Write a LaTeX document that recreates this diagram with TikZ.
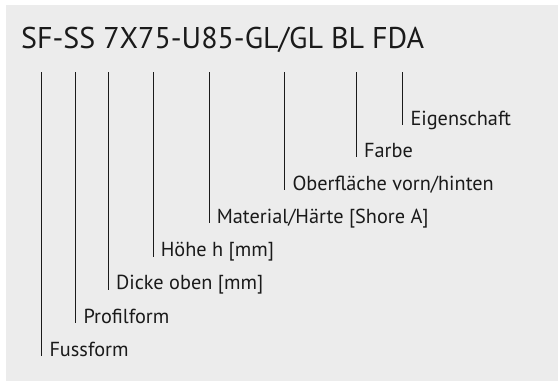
\documentclass[tikz,border=0pt]{standalone}
\usepackage{fontspec}
\setmainfont{PT Sans}
\usepackage{tikz}
\usetikzlibrary{positioning}
\definecolor{panel}{RGB}{236, 236, 236}
\definecolor{ink}{RGB}{26, 26, 26}
\tikzset{
    code title/.style={anchor=base west, inner sep=0pt, text=ink, font=\fontsize{30}{33}\selectfont},
    part label/.style={anchor=base west, inner sep=0pt, text=ink, font=\fontsize{20.3}{23}\selectfont},
    part line/.style={draw=ink, line width=1pt},
}
\begin{document}
\begin{tikzpicture}[x=1pt, y=-1pt]
\useasboundingbox (0,0) rectangle (558,381);
\fill[panel] (6,5) rectangle (558,381);
\node[code title] (code) at (21,48) {SF-SS 7X75-U85-GL/GL BL FDA};
% tops of the marker lines
\coordinate (t1) at (41.7,72);
\coordinate (t2) at (75.7,72);
\coordinate (t3) at (108.3,72);
\coordinate (t4) at (153,72);
\coordinate (t5) at (209,72);
\coordinate (t6) at (284.7,72);
\coordinate (t7) at (356.3,72);
\coordinate (t8) at (402.7,72);
% labels
\node[part label] (fuss) at (49.3,356) {Fussform};
\node[part label] (profil) at (83.3,323) {Profilform};
\node[part label] (dicke) at (115.9,289.5) {Dicke oben [mm]};
\node[part label] (hoehe) at (160.6,256.5) {Höhe h [mm]};
\node[part label] (material) at (216.6,223) {Material/Härte [Shore A]};
\node[part label] (oberfl) at (292.3,190) {Oberfläche vorn/hinten};
\node[part label] (farbe) at (363.9,157) {Farbe};
\node[part label] (eigen) at (410.3,125) {Eigenschaft};
\draw[part line] (t1) -- (t1 |- fuss.base);
\draw[part line] (t2) -- (t2 |- profil.base);
\draw[part line] (t3) -- (t3 |- dicke.base);
\draw[part line] (t4) -- (t4 |- hoehe.base);
\draw[part line] (t5) -- (t5 |- material.base);
\draw[part line] (t6) -- (t6 |- oberfl.base);
\draw[part line] (t7) -- (t7 |- farbe.base);
\draw[part line] (t8) -- (t8 |- eigen.base);
\end{tikzpicture}
\end{document}
